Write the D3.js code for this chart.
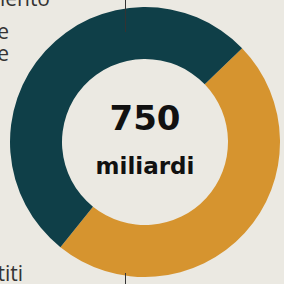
<!DOCTYPE html>
<html>
<head>
<meta charset="utf-8">
<script src="https://cdn.jsdelivr.net/npm/d3@7"></script>
<style>
  html, body { margin: 0; padding: 0; background: #ebe9e2; }
  svg { display: block; }
</style>
</head>
<body>
<div id="chart"></div>
<script>
// Data
const categories = ["Prestiti", "Sovvenzioni"];
const values = [360, 390];
const colors = ["#d6942f", "#0f3f48"];
const totalLabel = "750";
const unitLabel = "miliardi";

// side labels (cut by the frame in the original)
const leftLabels = ["finanziamento", "per le riforme", "e le imprese"];
const bottomLabel = "prestiti";

const width = 284, height = 284;
const cx = 145, cy = 142;
const outerR = 135, innerR = 83;

const svg = d3.select("#chart").append("svg")
    .attr("width", width)
    .attr("height", height);

svg.append("rect")
    .attr("width", width)
    .attr("height", height)
    .attr("fill", "#ebe9e2");

// Donut
const pie = d3.pie()
    .sort(null)
    .startAngle(46 * Math.PI / 180)
    .endAngle(46 * Math.PI / 180 + 2 * Math.PI);

const arc = d3.arc()
    .innerRadius(innerR)
    .outerRadius(outerR);

const data = categories.map((c, i) => ({ name: c, value: values[i] }));

const g = svg.append("g")
    .attr("transform", "translate(" + cx + "," + cy + ")");

g.selectAll("path")
    .data(pie.value(d => d.value)(data))
    .join("path")
        .attr("d", arc)
        .attr("fill", (d, i) => colors[i]);

// leader lines
svg.append("line")
    .attr("x1", 125.5).attr("x2", 125.5)
    .attr("y1", 0).attr("y2", 32)
    .attr("stroke", "#333").attr("stroke-width", 1);

svg.append("line")
    .attr("x1", 125.5).attr("x2", 125.5)
    .attr("y1", 273).attr("y2", 284)
    .attr("stroke", "#333").attr("stroke-width", 1);

// Centre text
svg.append("text")
    .attr("x", cx).attr("y", 130)
    .attr("text-anchor", "middle")
    .style("font-family", "'DejaVu Sans', sans-serif")
    .style("font-weight", "bold")
    .style("font-size", "34px")
    .attr("fill", "#111")
    .text(totalLabel);

svg.append("text")
    .attr("x", cx).attr("y", 174)
    .attr("text-anchor", "middle")
    .style("font-family", "'DejaVu Sans', sans-serif")
    .style("font-weight", "bold")
    .style("font-size", "23px")
    .attr("fill", "#111")
    .text(unitLabel);

// Side labels
const leftX = [50, 9, 9];
const leftY = [6, 39, 61];
svg.selectAll("text.side")
    .data(leftLabels)
    .join("text")
        .attr("class", "side")
        .attr("x", (d, i) => leftX[i])
        .attr("y", (d, i) => leftY[i])
        .attr("text-anchor", "end")
        .style("font-family", "'Open Sans', sans-serif")
        .style("font-size", "21px")
        .attr("fill", "#333")
        .text(d => d);

svg.append("text")
    .attr("x", 23).attr("y", 281)
    .attr("text-anchor", "end")
    .style("font-family", "'Open Sans', sans-serif")
    .style("font-size", "21px")
    .attr("fill", "#333")
    .text(bottomLabel);
</script>
</body>
</html>
